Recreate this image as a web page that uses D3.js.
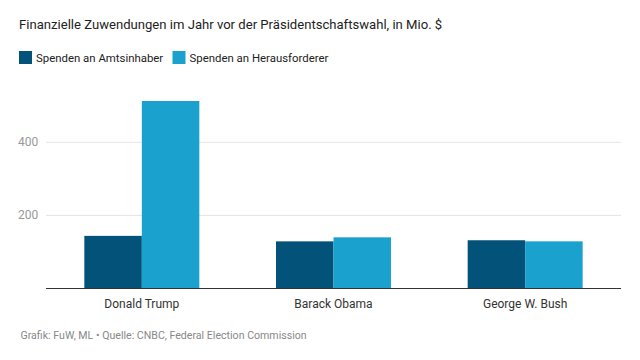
<!DOCTYPE html>
<html><head><meta charset="utf-8">
<script src="https://cdn.jsdelivr.net/npm/d3@7"></script>
<style>body{margin:0;background:#fff;font-family:Roboto,sans-serif}</style>
</head><body><svg id="c" width="640" height="360"></svg>
<script>
const categories = ["Donald Trump", "Barack Obama", "George W. Bush"];
const seriesNames = ["Spenden an Amtsinhaber", "Spenden an Herausforderer"];
const incumbent = [144, 129, 132];
const challenger = [513, 140, 129];
const yTicks = [200, 400];
const colors = ["#02527a", "#1ba1ce"];

const svg = d3.select("#c");
const x0 = d3.scaleBand().domain(categories).range([46, 621]).paddingInner(0.4).paddingOuter(0.2);
const x1 = d3.scaleBand().domain(seriesNames).range([0, x0.bandwidth()]);
const y = d3.scaleLinear().domain([0, 400]).range([288.5, 142.3]);

svg.append("text").attr("x", 19).attr("y", 28.5).attr("font-size", 13.1).attr("fill", "#222").text("Finanzielle Zuwendungen im Jahr vor der Präsidentschaftswahl, in Mio. $");

const leg = svg.append("g");
const legX = [19, 172.5];
seriesNames.forEach((s, i) => {
  leg.append("rect").attr("x", legX[i]).attr("y", 51).attr("width", 13).attr("height", 13).attr("fill", colors[i]);
  leg.append("text").attr("x", legX[i] + 17).attr("y", 61.5).attr("font-size", 11.4).attr("fill", "#222").text(s);
});

const grid = svg.append("g");
yTicks.forEach(v => {
  grid.append("line").attr("x1", 46).attr("x2", 621).attr("y1", y(v)).attr("y2", y(v)).attr("stroke", "#e4e4e4").attr("stroke-width", 1);
  grid.append("text").attr("x", 18).attr("y", y(v) + 4).attr("font-size", 12).attr("fill", "#999").text(v);
});

const data = categories.map((c, i) => ({c, vals: [incumbent[i], challenger[i]]}));
const g = svg.append("g");
data.forEach(d => {
  d.vals.forEach((v, j) => {
    g.append("rect").attr("x", x0(d.c) + x1(seriesNames[j])).attr("width", x1.bandwidth())
      .attr("y", y(v)).attr("height", y(0) - y(v)).attr("fill", colors[j]);
  });
});

svg.append("line").attr("x1", 46).attr("x2", 621).attr("y1", y(0)).attr("y2", y(0)).attr("stroke", "#333").attr("stroke-width", 1);

const xa = d3.axisBottom(x0).tickSize(0).tickPadding(11);
const ax = svg.append("g").attr("transform", `translate(0,${y(0)})`).call(xa);
ax.select(".domain").remove();
ax.selectAll("text").attr("font-size", 12).attr("fill", "#333").attr("font-family", "Roboto");

svg.append("text").attr("x", 20.5).attr("y", 338.5).attr("font-size", 10.6).attr("fill", "#888").text("Grafik: FuW, ML • Quelle: CNBC, Federal Election Commission");
</script></body></html>
